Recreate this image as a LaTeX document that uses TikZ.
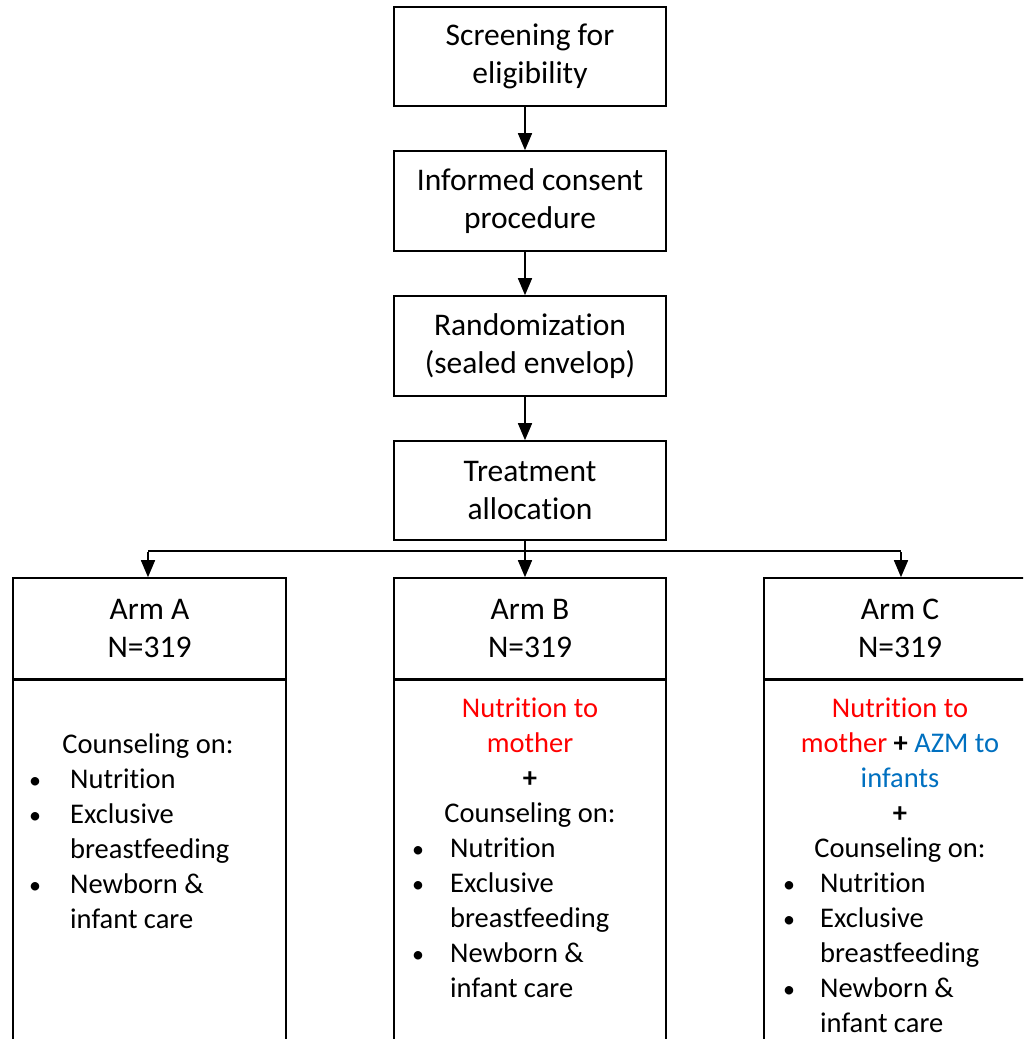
\documentclass[tikz,border=0pt]{standalone}
\usepackage{fontspec}
\setmainfont{Carlito}[Ligatures={NoCommon}]
\usetikzlibrary{arrows.meta}
\definecolor{tred}{RGB}{255,0,0}
\definecolor{tblue}{RGB}{0,112,192}
\tikzset{
  box/.style={draw=black, line width=1.6pt, rectangle, inner sep=0pt, align=center,
    font=\fontsize{31.5}{38.5}\selectfont},
  lower/.style={draw=black, line width=1.6pt, rectangle, inner sep=0pt},
  txt/.style={inner sep=0pt, font=\fontsize{28.5}{35}\selectfont},
  bul/.style={inner sep=0pt, font=\fontsize{24}{35}\selectfont},
  arr/.style={line width=1.6pt, -{Triangle[length=17pt,width=14pt]}},
  ln/.style={line width=1.6pt}
}
\begin{document}
\begin{tikzpicture}[x=1pt,y=-1pt]
\useasboundingbox (0,0) rectangle (1023,1039);
\clip (0,0) rectangle (1023,1039);
% top boxes
\node[box, minimum width=272pt, minimum height=99pt] (t1) at (530,56.5) {Screening for\\eligibility};
\node[box, minimum width=272pt, minimum height=100pt] (t2) at (530,201) {Informed consent\\procedure};
\node[box, minimum width=272pt, minimum height=100pt] (t3) at (530,346) {Randomization\\(sealed envelop)};
\node[box, minimum width=272pt, minimum height=99pt] (t4) at (530,490.5) {Treatment\\allocation};
% arm header boxes
\node[box, minimum width=273pt, minimum height=101pt] (hA) at (149.5,628.5) {Arm A\\N=319};
\node[box, minimum width=272pt, minimum height=101pt] (hB) at (530,628.5) {Arm B\\N=319};
\node[box, minimum width=272pt, minimum height=101pt] (hC) at (900,628.5) {Arm C\\N=319};
% arm lower boxes (extend past the picture edge)
\node[lower, minimum width=273pt, minimum height=400pt, anchor=north] (lA) at (hA.south) {};
\node[lower, minimum width=272pt, minimum height=400pt, anchor=north] (lB) at (hB.south) {};
\node[lower, minimum width=272pt, minimum height=400pt, anchor=north] (lC) at (hC.south) {};
% connectors
\coordinate (jA) at (148,551);
\coordinate (jB) at (525,551);
\coordinate (jC) at (901,551);
\draw[arr] (t1.south -| jB) -- (t2.north -| jB);
\draw[arr] (t2.south -| jB) -- (t3.north -| jB);
\draw[arr] (t3.south -| jB) -- (t4.north -| jB);
\draw[ln] (jA) -- (jC);
\draw[arr] (t4.south -| jB) -- (hB.north -| jB);
\draw[arr] ([yshift=-0.8pt]jA) -- (hA.north -| jA);
\draw[arr] ([yshift=-0.8pt]jC) -- (hC.north -| jC);
% Arm A text
\node[txt, anchor=base] (a1) at (148,753) {Counseling on:};
\node[bul, anchor=base] (a2b) at (35,788) {•};
\node[txt, anchor=base west] (a2) at (70,788) {Nutrition};
\node[bul, anchor=base] (a3b) at (35,823) {•};
\node[txt, anchor=base west] (a3) at (70,823) {Exclusive};
\node[txt, anchor=base west] (a4) at (70,858) {breastfeeding};
\node[bul, anchor=base] (a5b) at (35,893) {•};
\node[txt, anchor=base west] (a5) at (70,893) {Newborn \&};
\node[txt, anchor=base west] (a6) at (70,928) {infant care};
% Arm B text
\node[txt, anchor=base, text=tred] (b1) at (530,717) {Nutrition to};
\node[txt, anchor=base, text=tred] (b2) at (530,752) {mother};
\node[txt, anchor=base] (b3) at (530,787) {\textbf{+}};
\node[txt, anchor=base] (b4) at (530,822) {Counseling on:};
\node[bul, anchor=base] (b5b) at (418,857) {•};
\node[txt, anchor=base west] (b5) at (450,857) {Nutrition};
\node[bul, anchor=base] (b6b) at (418,892) {•};
\node[txt, anchor=base west] (b6) at (450,892) {Exclusive};
\node[txt, anchor=base west] (b7) at (450,927) {breastfeeding};
\node[bul, anchor=base] (b8b) at (418,962) {•};
\node[txt, anchor=base west] (b8) at (450,962) {Newborn \&};
\node[txt, anchor=base west] (b9) at (450,997) {infant care};
% Arm C text
\node[txt, anchor=base, text=tred] (c1) at (900,717) {Nutrition to};
\node[txt, anchor=base] (c2) at (900,752) {\textcolor{tred}{mother} \textbf{+} \textcolor{tblue}{AZM to}};
\node[txt, anchor=base, text=tblue] (c3) at (900,787) {infants};
\node[txt, anchor=base] (c4) at (900,822) {\textbf{+}};
\node[txt, anchor=base] (c5) at (900,857) {Counseling on:};
\node[bul, anchor=base] (c6b) at (789,892) {•};
\node[txt, anchor=base west] (c6) at (820,892) {Nutrition};
\node[bul, anchor=base] (c7b) at (789,927) {•};
\node[txt, anchor=base west] (c7) at (820,927) {Exclusive};
\node[txt, anchor=base west] (c8) at (820,962) {breastfeeding};
\node[bul, anchor=base] (c9b) at (789,997) {•};
\node[txt, anchor=base west] (c9) at (820,997) {Newborn \&};
\node[txt, anchor=base west] (c10) at (820,1032) {infant care};
\end{tikzpicture}
\end{document}
